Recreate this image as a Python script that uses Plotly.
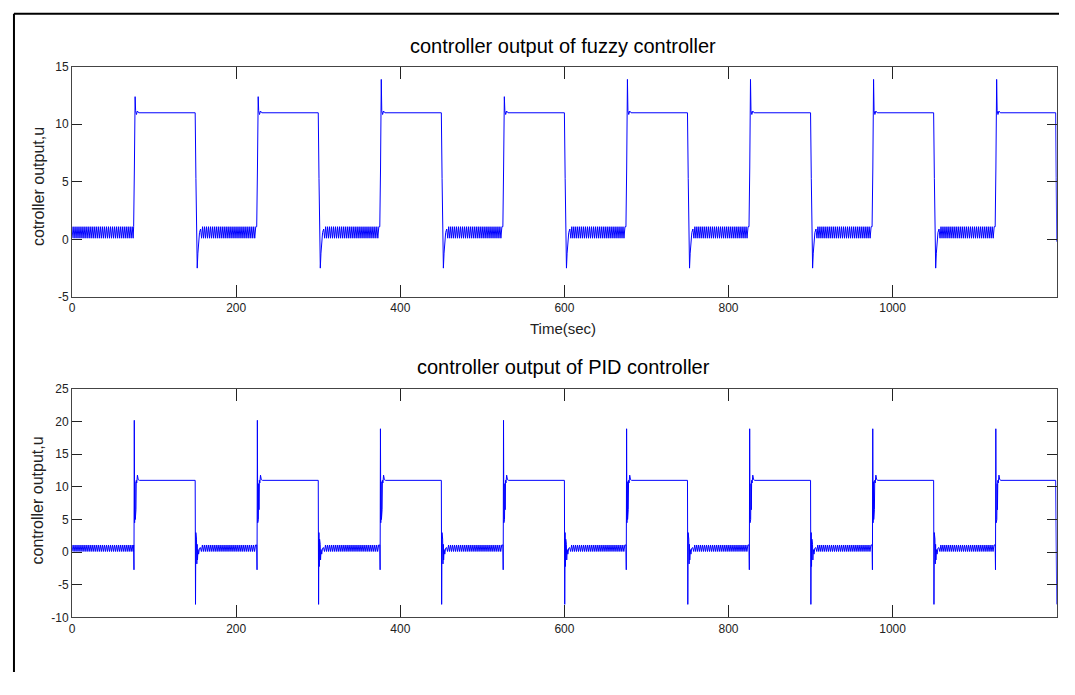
import plotly.graph_objects as go

# ---- axis ticks
time_ticks = [0, 200, 400, 600, 800, 1000, 1200]
fuzzy_ticks = [-5, 0, 5, 10, 15]
fuzzy_tick_text = ["-5", "0", "5", "10", "15"]
pid_ticks = [-10, -5, 0, 5, 10, 15, 20, 25]
pid_tick_text = ["-10", "-5", "0", "5", "10", "15", "20", "25"]

# ---- switching instants of the square-wave reference (s)
rise_times = [75, 225, 375, 525, 675, 825, 975, 1125]
fall_times = [150, 300, 450, 600, 750, 900, 1050]

# ---- levels shared by both controllers
chatter_low = 0.1
chatter_high = 1.1
chatter_half_period = 1.2  # s between chatter extremes in the low phase

# ---- fuzzy controller: spike on each rising / falling edge
fuzzy_rise_peaks = [12.4, 12.4, 13.9, 12.4, 13.9, 13.9, 13.9, 13.9]
fuzzy_fall_dips = [-2.5, -2.5, -2.5, -2.5, -2.5, -2.5, -2.5]
# edge transients: seconds after the edge and value (None = the spike value)
fuzzy_rise_dt = [0.0, 0.9, 1.8, 2.4, 3.4, 4.6, 6.2]
fuzzy_rise_v = [1.1, 6.2, None, 11.2, 10.85, 11.15, 11.0]
fuzzy_fall_dt = [0.0, 0.9, 1.7, 2.5, 3.3, 4.2, 5.3, 6.6]
fuzzy_fall_v = [11.0, 5.3, -1.7, None, -1.2, -0.1, 0.6, 0.9]
fuzzy_end_t = [1198.8, 1199.4, 1200.0]
fuzzy_end_v = [11.0, 5.4, -0.2]

# ---- PID controller
pid_rise_peaks = [20.2, 20.2, 18.9, 20.2, 18.9, 18.9, 18.9, 18.9]
pid_fall_dips = [-8.0, -8.0, -8.0, -8.0, -8.0, -8.0, -8.0]
pid_rise_dt = [0.0, 0.4, 0.8, 1.2, 1.6, 2.0, 2.4, 2.8, 3.2, 3.8, 4.6, 5.6, 7.0]
pid_rise_v = [1.1, -2.7, None, 4.5, 10.8, 5.0, 10.5, 6.5, 11.0, 10.6, 11.8, 11.1, 11.0]
pid_fall_dt = [0.0, 0.4, 0.8, 1.2, 1.6, 2.0, 2.4, 2.8, 3.4, 4.2, 5.2, 6.4]
pid_fall_v = [11.0, None, 3.0, -2.2, 2.0, -1.8, 1.2, -1.2, 0.4, -0.3, 0.6, 0.7]
pid_end_t = [1198.8, 1199.4, 1200.0]
pid_end_v = [11.0, 1.5, -8.0]


def build(rise_dt, rise_v, peaks, fall_dt, fall_v, dips, end_t, end_v):
    t, y = [], []

    def chatter(a, b):
        k, s = 0, a
        while s < b - 0.3:
            t.append(s)
            y.append(chatter_low if k % 2 == 0 else chatter_high)
            s += chatter_half_period
            k += 1

    def edge(t0, dts, vals, spike):
        for d, v in zip(dts, vals):
            t.append(t0 + d)
            y.append(spike if v is None else v)

    chatter(0, rise_times[0])
    for i, r in enumerate(rise_times):
        edge(r, rise_dt, rise_v, peaks[i])
        if i < len(fall_times):
            f = fall_times[i]
            edge(f, fall_dt, fall_v, dips[i])
            chatter(f + fall_dt[-1] + chatter_half_period, rise_times[i + 1])
    t += end_t
    y += end_v
    return t, y


fz_t, fz_y = build(fuzzy_rise_dt, fuzzy_rise_v, fuzzy_rise_peaks,
                   fuzzy_fall_dt, fuzzy_fall_v, fuzzy_fall_dips,
                   fuzzy_end_t, fuzzy_end_v)
pid_t, pid_y = build(pid_rise_dt, pid_rise_v, pid_rise_peaks,
                     pid_fall_dt, pid_fall_v, pid_fall_dips,
                     pid_end_t, pid_end_v)

# figure sized to the scroll-free part of the window; layout positions
# below are given in page pixels from the top-left corner
W, H = 1059, 679


def px(x):
    return x / W


def py(y):
    return 1 - y / H


FONT = "Liberation Sans, Arial, sans-serif"

fig = go.Figure()
fig.add_trace(go.Scatter(x=fz_t, y=fz_y, mode="lines",
                         line=dict(color="rgb(0,0,255)", width=1),
                         xaxis="x", yaxis="y", showlegend=False))
fig.add_trace(go.Scatter(x=pid_t, y=pid_y, mode="lines",
                         line=dict(color="rgb(0,0,255)", width=1),
                         xaxis="x2", yaxis="y2", showlegend=False))

x_dom = [px(69.3), px(1056.7)]
axis_common = dict(showline=True, linecolor="#444444", linewidth=1,
                   mirror="allticks", ticks="inside", tickcolor="#222222",
                   tickwidth=1, showgrid=False, zeroline=False,
                   tickfont=dict(family=FONT, size=12, color="#222222"))

fig.update_layout(
    width=W, height=H, autosize=False,
    margin=dict(l=0, r=0, t=0, b=0),
    paper_bgcolor="white", plot_bgcolor="white",
    xaxis=dict(domain=x_dom, range=[0, 1200], tickvals=time_ticks,
               ticklen=12, anchor="y", **axis_common),
    yaxis=dict(domain=[py(296), py(61)], range=[-5, 15],
               tickvals=fuzzy_ticks, ticktext=fuzzy_tick_text,
               ticklen=10, anchor="x", **axis_common),
    xaxis2=dict(domain=x_dom, range=[0, 1200], tickvals=time_ticks,
                ticklen=12, anchor="y2", **axis_common),
    yaxis2=dict(domain=[py(623.3), py(390)], range=[-10, 25],
                tickvals=pid_ticks, ticktext=pid_tick_text,
                ticklen=10, anchor="x2", **axis_common),
    shapes=[
        dict(type="line", xref="paper", yref="paper",
             x0=px(11), x1=px(11), y0=0, y1=py(7),
             line=dict(color="black", width=2)),
        dict(type="line", xref="paper", yref="paper",
             x0=px(11), x1=1, y0=py(7), y1=py(7),
             line=dict(color="black", width=2)),
    ],
    annotations=[
        dict(text="controller output of fuzzy controller", xref="paper",
             yref="paper", x=px(562), y=py(40), showarrow=False,
             xanchor="center", yanchor="middle",
             font=dict(family=FONT, size=20, color="black")),
        dict(text="controller output of PID controller", xref="paper",
             yref="paper", x=px(562), y=py(368), showarrow=False,
             xanchor="center", yanchor="middle",
             font=dict(family=FONT, size=20, color="black")),
        dict(text="Time(sec)", xref="paper", yref="paper", x=px(562),
             y=py(328), showarrow=False, xanchor="center",
             yanchor="middle", font=dict(family=FONT, size=15, color="#222222")),
        dict(text="cotroller output,u", xref="paper", yref="paper",
             x=px(35.5), y=py(183.5), showarrow=False, textangle=-90,
             xanchor="center", yanchor="middle",
             font=dict(family=FONT, size=16, color="#222222")),
        dict(text="controller output,u", xref="paper", yref="paper",
             x=px(35), y=py(504), showarrow=False, textangle=-90,
             xanchor="center", yanchor="middle",
             font=dict(family=FONT, size=16, color="#222222")),
    ],
)

fig.write_html("out.html")
